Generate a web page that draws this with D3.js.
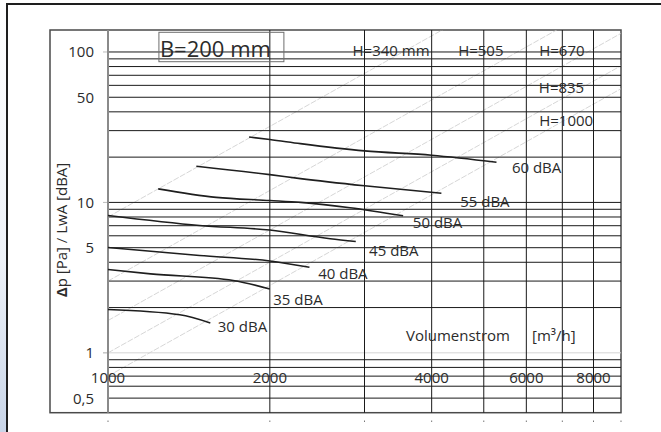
<!DOCTYPE html>
<html>
<head>
<meta charset="utf-8">
<script src="https://cdn.jsdelivr.net/npm/d3@7"></script>
<style>
  html, body { margin: 0; padding: 0; background: #fff; }
  svg text { font-family: "Open Sans", "Noto Sans", sans-serif; fill: #2b2b2b; }
</style>
</head>
<body>
<svg id="chart"></svg>
<script>
const w = 661, h = 432;

// axis values
const xDomain = [1000, 9000];
const yDomain = [0.4, 140];
const xGridValues = [2000, 3000, 4000, 5000, 6000, 7000, 8000];
const xDotValues = [1000, 2000, 3000, 4000, 5000, 6000, 7000, 8000, 9000];
const yGridValues = [0.5, 0.6, 0.7, 0.8, 0.9, 2, 3, 4, 5, 6, 7, 8, 9, 10, 20, 30, 40, 50, 60, 70, 80, 90, 100];
const yLightValues = [1];
const yTickMarks = [1, 10, 100];
const xTickValues = [1000, 2000, 4000, 6000, 8000];
const xTickText = ['1000', '2000', '4000', '6000', '8000'];
const yTickValues = [100, 50, 10, 5, 1, 0.5];
const yTickText = ['100', '50', '10', '5', '1', '0,5'];

// sound level curves [m3/h, Pa]
const dbaNames = ['30 dBA', '35 dBA', '40 dBA', '45 dBA', '50 dBA', '55 dBA', '60 dBA'];
const dba30 = [[1000, 1.94], [1360, 1.79], [1550, 1.58]];
const dba35 = [[1000, 3.58], [1200, 3.35], [1710, 3.03], [2000, 2.66]];
const dba40 = [[1000, 5.02], [1480, 4.44], [2000, 4.08], [2370, 3.71]];
const dba45 = [[1000, 8.19], [1480, 7.03], [2000, 6.55], [2590, 5.73], [2890, 5.5]];
const dba50 = [[1240, 12.3], [1590, 10.8], [2000, 10.3], [2280, 10.0], [2820, 9.22], [3540, 8.15]];
const dba55 = [[1460, 17.4], [2000, 15.3], [2280, 14.4], [3000, 12.9], [4170, 11.5]];
const dba60 = [[1830, 27.2], [2000, 26.2], [2280, 24.6], [3000, 22.0], [4000, 20.6], [5280, 18.5]];
const dbaLabelAt = [[1600, 1.37], [2030, 2.08], [2460, 3.10], [3060, 4.37], [3690, 6.76], [4520, 9.39], [5640, 15.7]];

// system lines per height H (two points each, [m3/h, Pa])
const hNames = ['H=340 mm', 'H=505', 'H=670', 'H=835', 'H=1000'];
const hLines = [
  [[1000, 8], [9000, 648]],
  [[1000, 3], [9000, 243]],
  [[1000, 1.64], [9000, 133]],
  [[1000, 1.0], [9000, 81]],
  [[1000, 0.7], [9000, 57]]
];
const hLabelAt = [[2850, 94], [4480, 94], [6340, 94], [6330, 53], [6340, 32.4]];

const widthTitle = 'B=200 mm';
const titleAt = [1249, 92.6];

const svg = d3.select('#chart')
    .attr('width', w)
    .attr('height', h)
    .attr('viewBox', '0 0 ' + w + ' ' + h);

const x = d3.scaleLog().domain(xDomain).range([108, 621]);
const y = d3.scaleLog().domain(yDomain).range([412.7, 30]);

//scan tint on the left edge
const defs = svg.append('defs');
const tint = defs.append('linearGradient')
    .attr('id', 'tint')
    .attr('x1', 0).attr('y1', 0).attr('x2', 0).attr('y2', 1);
tint.append('stop').attr('offset', '0%').attr('stop-color', '#ffffff');
tint.append('stop').attr('offset', '60%').attr('stop-color', '#eef2f8');
tint.append('stop').attr('offset', '100%').attr('stop-color', '#c9d5e8');
svg.append('rect')
    .attr('x', 0).attr('y', 0)
    .attr('width', 6).attr('height', h)
    .attr('fill', 'url(#tint)');

defs.append('clipPath')
    .attr('id', 'plotClip')
    .append('rect')
    .attr('x', x(xDomain[0]))
    .attr('y', y(yDomain[1]))
    .attr('width', x(xDomain[1]) - x(xDomain[0]))
    .attr('height', y(yDomain[0]) - y(yDomain[1]));

//outer frame
svg.append('line')
    .attr('x1', 6).attr('x2', w)
    .attr('y1', 4).attr('y2', 4)
    .attr('stroke', '#1e1e1e')
    .attr('stroke-width', 2);
svg.append('line')
    .attr('x1', 7).attr('x2', 7)
    .attr('y1', 3).attr('y2', h)
    .attr('stroke', '#1e1e1e')
    .attr('stroke-width', 2);

//inner frame
svg.append('rect')
    .attr('x', 50)
    .attr('y', y(yDomain[1]))
    .attr('width', x(xDomain[1]) - 50)
    .attr('height', y(yDomain[0]) - y(yDomain[1]))
    .attr('fill', 'none')
    .attr('stroke', '#4a4a4a')
    .attr('stroke-width', 1.5);

//system lines
const plot = svg.append('g').attr('clip-path', 'url(#plotClip)');
const line = d3.line().x(d => x(d[0])).y(d => y(d[1]));

plot.selectAll('path.sys')
    .data(hLines)
    .enter()
    .append('path')
    .attr('class', 'sys')
    .attr('d', line)
    .attr('fill', 'none')
    .attr('stroke', '#c4c4c4')
    .attr('stroke-width', 0.7)
    .attr('stroke-dasharray', '6,1.5');

//light line at 1
svg.selectAll('line.light')
    .data(yLightValues)
    .enter()
    .append('line')
    .attr('class', 'light')
    .attr('x1', 103).attr('x2', x(xDomain[1]))
    .attr('y1', d => y(d)).attr('y2', d => y(d))
    .attr('stroke', '#d4d4d4')
    .attr('stroke-width', 1);

//small ticks left of axis
svg.selectAll('line.ytick')
    .data(yTickMarks)
    .enter()
    .append('line')
    .attr('class', 'ytick')
    .attr('x1', 103).attr('x2', 108)
    .attr('y1', d => y(d)).attr('y2', d => y(d))
    .attr('stroke', '#bbbbbb')
    .attr('stroke-width', 1);

//horizontal grid
svg.selectAll('line.hgrid')
    .data(yGridValues)
    .enter()
    .append('line')
    .attr('class', 'hgrid')
    .attr('x1', x(xDomain[0])).attr('x2', x(xDomain[1]))
    .attr('y1', d => y(d)).attr('y2', d => y(d))
    .attr('stroke', '#1a1a1a')
    .attr('stroke-width', 1);

//vertical grid
svg.selectAll('line.vgrid')
    .data(xGridValues)
    .enter()
    .append('line')
    .attr('class', 'vgrid')
    .attr('x1', d => x(d)).attr('x2', d => x(d))
    .attr('y1', y(yDomain[1])).attr('y2', y(yDomain[0]))
    .attr('stroke', '#1a1a1a')
    .attr('stroke-width', 1);

//left axis (grey)
svg.append('line')
    .attr('x1', x(xDomain[0])).attr('x2', x(xDomain[0]))
    .attr('y1', y(yDomain[1])).attr('y2', y(yDomain[0]))
    .attr('stroke', '#8a8a8a')
    .attr('stroke-width', 2);

//dots under the frame
svg.selectAll('line.dot')
    .data(xDotValues)
    .enter()
    .append('line')
    .attr('class', 'dot')
    .attr('x1', d => x(d)).attr('x2', d => x(d))
    .attr('y1', 420.5).attr('y2', 422)
    .attr('stroke', '#777')
    .attr('stroke-width', 1);

//dBA curves
const curveLine = d3.line()
    .x(d => x(d[0]))
    .y(d => y(d[1]))
    .curve(d3.curveMonotoneX);

const curves = [dba30, dba35, dba40, dba45, dba50, dba55, dba60];
svg.selectAll('path.dba')
    .data(curves)
    .enter()
    .append('path')
    .attr('class', 'dba')
    .attr('d', curveLine)
    .attr('fill', 'none')
    .attr('stroke', '#1e1e1e')
    .attr('stroke-width', 1.6);

svg.selectAll('text.dba')
    .data(dbaNames)
    .enter()
    .append('text')
    .attr('class', 'dba')
    .attr('x', (d, i) => x(dbaLabelAt[i][0]))
    .attr('y', (d, i) => y(dbaLabelAt[i][1]))
    .attr('font-size', '15px')
    .text(d => d);

//H labels
svg.selectAll('text.hlab')
    .data(hNames)
    .enter()
    .append('text')
    .attr('class', 'hlab')
    .attr('x', (d, i) => x(hLabelAt[i][0]))
    .attr('y', (d, i) => y(hLabelAt[i][1]))
    .attr('font-size', '15px')
    .text(d => d);

//y tick labels
svg.selectAll('text.ylab')
    .data(yTickValues)
    .enter()
    .append('text')
    .attr('class', 'ylab')
    .attr('x', 94)
    .attr('y', d => y(d))
    .attr('dy', '0.36em')
    .attr('text-anchor', 'end')
    .attr('font-size', '15px')
    .text((d, i) => yTickText[i]);

//x tick labels
svg.selectAll('text.xlab')
    .data(xTickValues)
    .enter()
    .append('text')
    .attr('class', 'xlab')
    .attr('x', d => x(d))
    .attr('y', 382.5)
    .attr('text-anchor', 'middle')
    .attr('font-size', '15px')
    .text((d, i) => xTickText[i]);

//axis titles
svg.append('text')
    .attr('x', 406)
    .attr('y', 341)
    .attr('font-size', '15px')
    .text('Volumenstrom');
svg.append('text')
    .attr('x', 532)
    .attr('y', 341)
    .attr('font-size', '15px')
    .text('[m³/h]');

const yTitle = svg.append('text')
    .attr('transform', 'translate(67,230) rotate(-90)')
    .attr('text-anchor', 'middle')
    .attr('font-size', '15px');
yTitle.append('tspan').attr('font-weight', 'bold').text('Δ');
yTitle.append('tspan').text('p [Pa] / LwA [dBA]');

//B=200 mm box
const title = svg.append('text')
    .attr('x', x(titleAt[0]))
    .attr('y', y(titleAt[1]))
    .attr('font-size', '22px')
    .text(widthTitle);
const bb = title.node().getBBox();
svg.insert('rect', 'text')
    .attr('x', bb.x - 1)
    .attr('y', 32.3)
    .attr('width', bb.width + 14)
    .attr('height', 29.4)
    .attr('fill', 'none')
    .attr('stroke', '#6e6e6e')
    .attr('stroke-width', 1);
</script>
</body>
</html>
